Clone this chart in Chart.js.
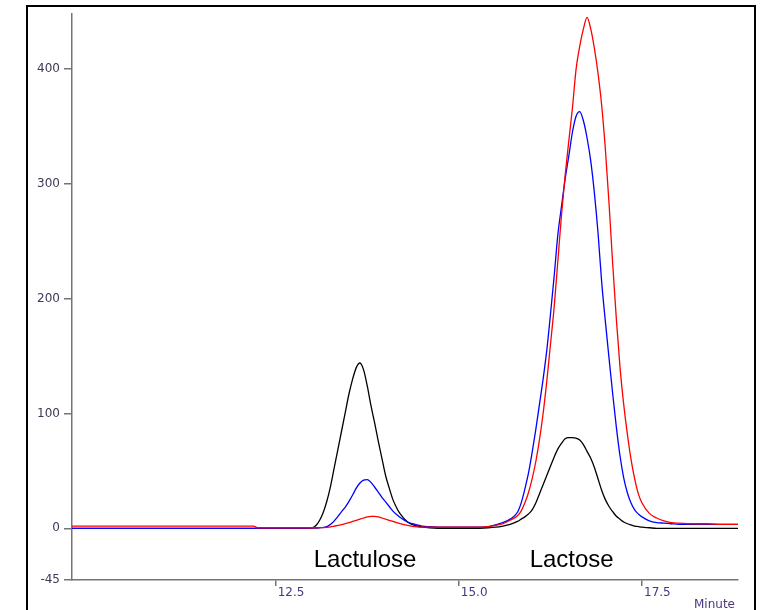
<!DOCTYPE html>
<html>
<head>
<meta charset="utf-8">
<script src="https://cdn.jsdelivr.net/npm/chart.js@4/dist/chart.umd.min.js"></script>
<style>
  body { margin: 0; background: #fff; }
</style>
</head>
<body>
<canvas id="chromChart" width="762" height="610"></canvas>
<script>
// retention time (min) shared by the three traces
const minutes = [
  9.72, 10.5, 11.0, 11.5, 12.0, 12.2, 12.25, 12.5, 12.8, 12.9,
  // lactulose
  13.0, 13.05, 13.1, 13.15, 13.2, 13.25, 13.3, 13.35, 13.4, 13.45,
  13.5, 13.55, 13.6, 13.65, 13.7, 13.75, 13.8, 13.85, 13.9, 13.95,
  14.0, 14.05, 14.1, 14.15, 14.2, 14.3, 14.4,
  14.5, 14.6, 14.8, 15.0, 15.2, 15.4, 15.5, 15.6, 15.7,
  // lactose
  15.8, 15.85, 15.9, 15.95, 16.0, 16.05, 16.1, 16.15, 16.2, 16.25,
  16.3, 16.35, 16.4, 16.45, 16.5, 16.55, 16.6, 16.65, 16.7, 16.75,
  16.8, 16.85, 16.9, 16.95, 17.0, 17.05, 17.1, 17.15, 17.2, 17.25,
  17.3, 17.35, 17.4, 17.45, 17.5, 17.6,
  17.7, 17.8, 17.9, 18.0, 18.2, 18.4, 18.6, 18.81];

const blackTrace = [
  0, 0, 0, 0, 0, 0, 0, 0, 0, 0.3,
  0.5, 2.5, 7, 14, 24, 37, 53, 69, 85, 101,
  117, 130, 140, 144, 138, 124, 107, 92, 76, 61,
  46, 35, 25, 18, 12.5, 5.5, 2.5,
  1, 0.5, 0, 0, 0, 0.5, 1, 2, 3.5,
  6, 8, 10, 12.5, 16, 22, 30, 38, 46, 54,
  62, 69, 74, 78, 79, 79, 78.5, 77, 73, 67,
  61, 53, 43, 33, 25, 19, 14.5, 10.5, 8, 5.5,
  4, 3, 2, 1.5, 1, 0.5,
  0, 0, 0, 0, 0, 0, 0, 0];

const blueTrace = [
  0, 0, 0, 0, 0, 0, 0, 0, 0, 0,
  0.2, 0.3, 0.5, 0.8, 1.5, 3.5, 6.5, 10.5, 14.5, 18.5,
  23.5, 29, 35, 39.5, 42, 42.5, 40, 36, 31.5, 27,
  23, 19, 15, 12, 9.5, 5.5, 3.5,
  2, 1.5, 1, 1, 1, 1.5, 3, 5, 8,
  14, 22, 34, 48, 66, 86, 108, 130, 155, 186,
  219, 255, 280, 304, 324, 345, 359, 363, 355, 340,
  320, 292, 257, 214, 180, 148, 117, 88, 63, 44,
  31, 22, 16, 12.5, 10, 6.5,
  5, 4.5, 4, 3.5, 3.5, 3.5, 3.5, 3.5];

const redTrace = [
  2, 2, 2, 2, 2, 2, 0.5, 0.5, 0.5, 0.5,
  0.5, 0.5, 0.6, 0.7, 0.9, 1.3, 2, 2.5, 3.2, 4,
  5, 6, 7, 8, 9, 10, 10.5, 10.5, 10, 9,
  8, 7, 6, 5, 4, 2.5, 1.5,
  1, 1, 1, 1, 1, 1.5, 2.5, 4, 7,
  11, 15, 22, 31, 43, 58, 77, 100, 128, 160,
  192, 232, 272, 307, 337, 366, 400, 420, 435, 445,
  435, 418, 396, 368, 330, 283, 230, 182, 140, 108,
  82, 60, 43, 30, 22, 13,
  9, 6.5, 5, 4.5, 4, 4, 3.5, 3.5];

const xTicks = [12.5, 15.0, 17.5];
const yTicks = [-45, 0, 100, 200, 300, 400];
const peakNames = ['Lactulose', 'Lactose'];
const peakTimes = [13.72, 16.54];
const peakLabelLevel = -33.5;

function toPoints(values) {
  return minutes.map((m, i) => ({ x: m, y: values[i] }));
}

const axisGray = '#747474';
const xLabelColor = '#4a3580';
const yLabelColor = '#3a3a55';
const tickFont = { family: '"DejaVu Sans", Verdana, sans-serif', size: 12 };

const framePlugin = {
  id: 'frame',
  afterDraw: (chart) => {
    const { ctx, scales } = chart;
    ctx.save();
    // outer box around the whole plot
    ctx.strokeStyle = '#000';
    ctx.lineWidth = 2;
    ctx.strokeRect(27, 6, 728, 700);
    // peak names
    ctx.fillStyle = '#000';
    ctx.font = '24px "Liberation Sans", Arial, sans-serif';
    ctx.textAlign = 'center';
    ctx.textBaseline = 'alphabetic';
    peakNames.forEach((name, i) => {
      ctx.fillText(name, scales.x.getPixelForValue(peakTimes[i]), scales.y.getPixelForValue(peakLabelLevel));
    });
    // axis unit
    ctx.font = '12px "DejaVu Sans", Verdana, sans-serif';
    ctx.fillStyle = xLabelColor;
    ctx.textAlign = 'right';
    ctx.fillText('Minute', scales.x.right - 3, 608);
    ctx.restore();
  }
};

const ctx = document.getElementById('chromChart').getContext('2d');
new Chart(ctx, {
  type: 'line',
  data: {
    datasets: [
      { label: 'red', data: toPoints(redTrace), borderColor: '#ff0000' },
      { label: 'blue', data: toPoints(blueTrace), borderColor: '#0000ff' },
      { label: 'black', data: toPoints(blackTrace), borderColor: '#000000' }
    ]
  },
  options: {
    responsive: false,
    animation: false,
    parsing: false,
    layout: { padding: { left: 0, top: 14, right: 24, bottom: 0 } },
    elements: {
      point: { radius: 0 },
      line: { borderWidth: 1.3, cubicInterpolationMode: 'monotone', fill: false }
    },
    scales: {
      x: {
        type: 'linear',
        min: 9.72,
        max: 18.81,
        afterBuildTicks: (scale) => { scale.ticks = xTicks.map(v => ({ value: v })); },
        afterFit: (scale) => { scale.height = 30; },
        grid: { drawOnChartArea: false, drawTicks: true, tickLength: 6, color: axisGray, lineWidth: 1.5 },
        border: { color: axisGray, width: 1.5 },
        ticks: {
          align: 'start',
          labelOffset: 2,
          padding: 0,
          color: xLabelColor,
          font: tickFont,
          callback: (v) => Number(v).toFixed(1)
        }
      },
      y: {
        type: 'linear',
        min: -45,
        max: 448,
        afterBuildTicks: (scale) => { scale.ticks = yTicks.map(v => ({ value: v })); },
        afterFit: (scale) => { scale.width = 72; },
        grid: { drawOnChartArea: false, drawTicks: true, tickLength: 8, color: axisGray, lineWidth: 1.5 },
        border: { color: axisGray, width: 1.5 },
        ticks: {
          padding: 4,
          color: yLabelColor,
          font: tickFont,
          callback: (v) => String(v)
        }
      }
    },
    plugins: {
      legend: { display: false },
      tooltip: { enabled: false }
    }
  },
  plugins: [framePlugin]
});
</script>
</body>
</html>
